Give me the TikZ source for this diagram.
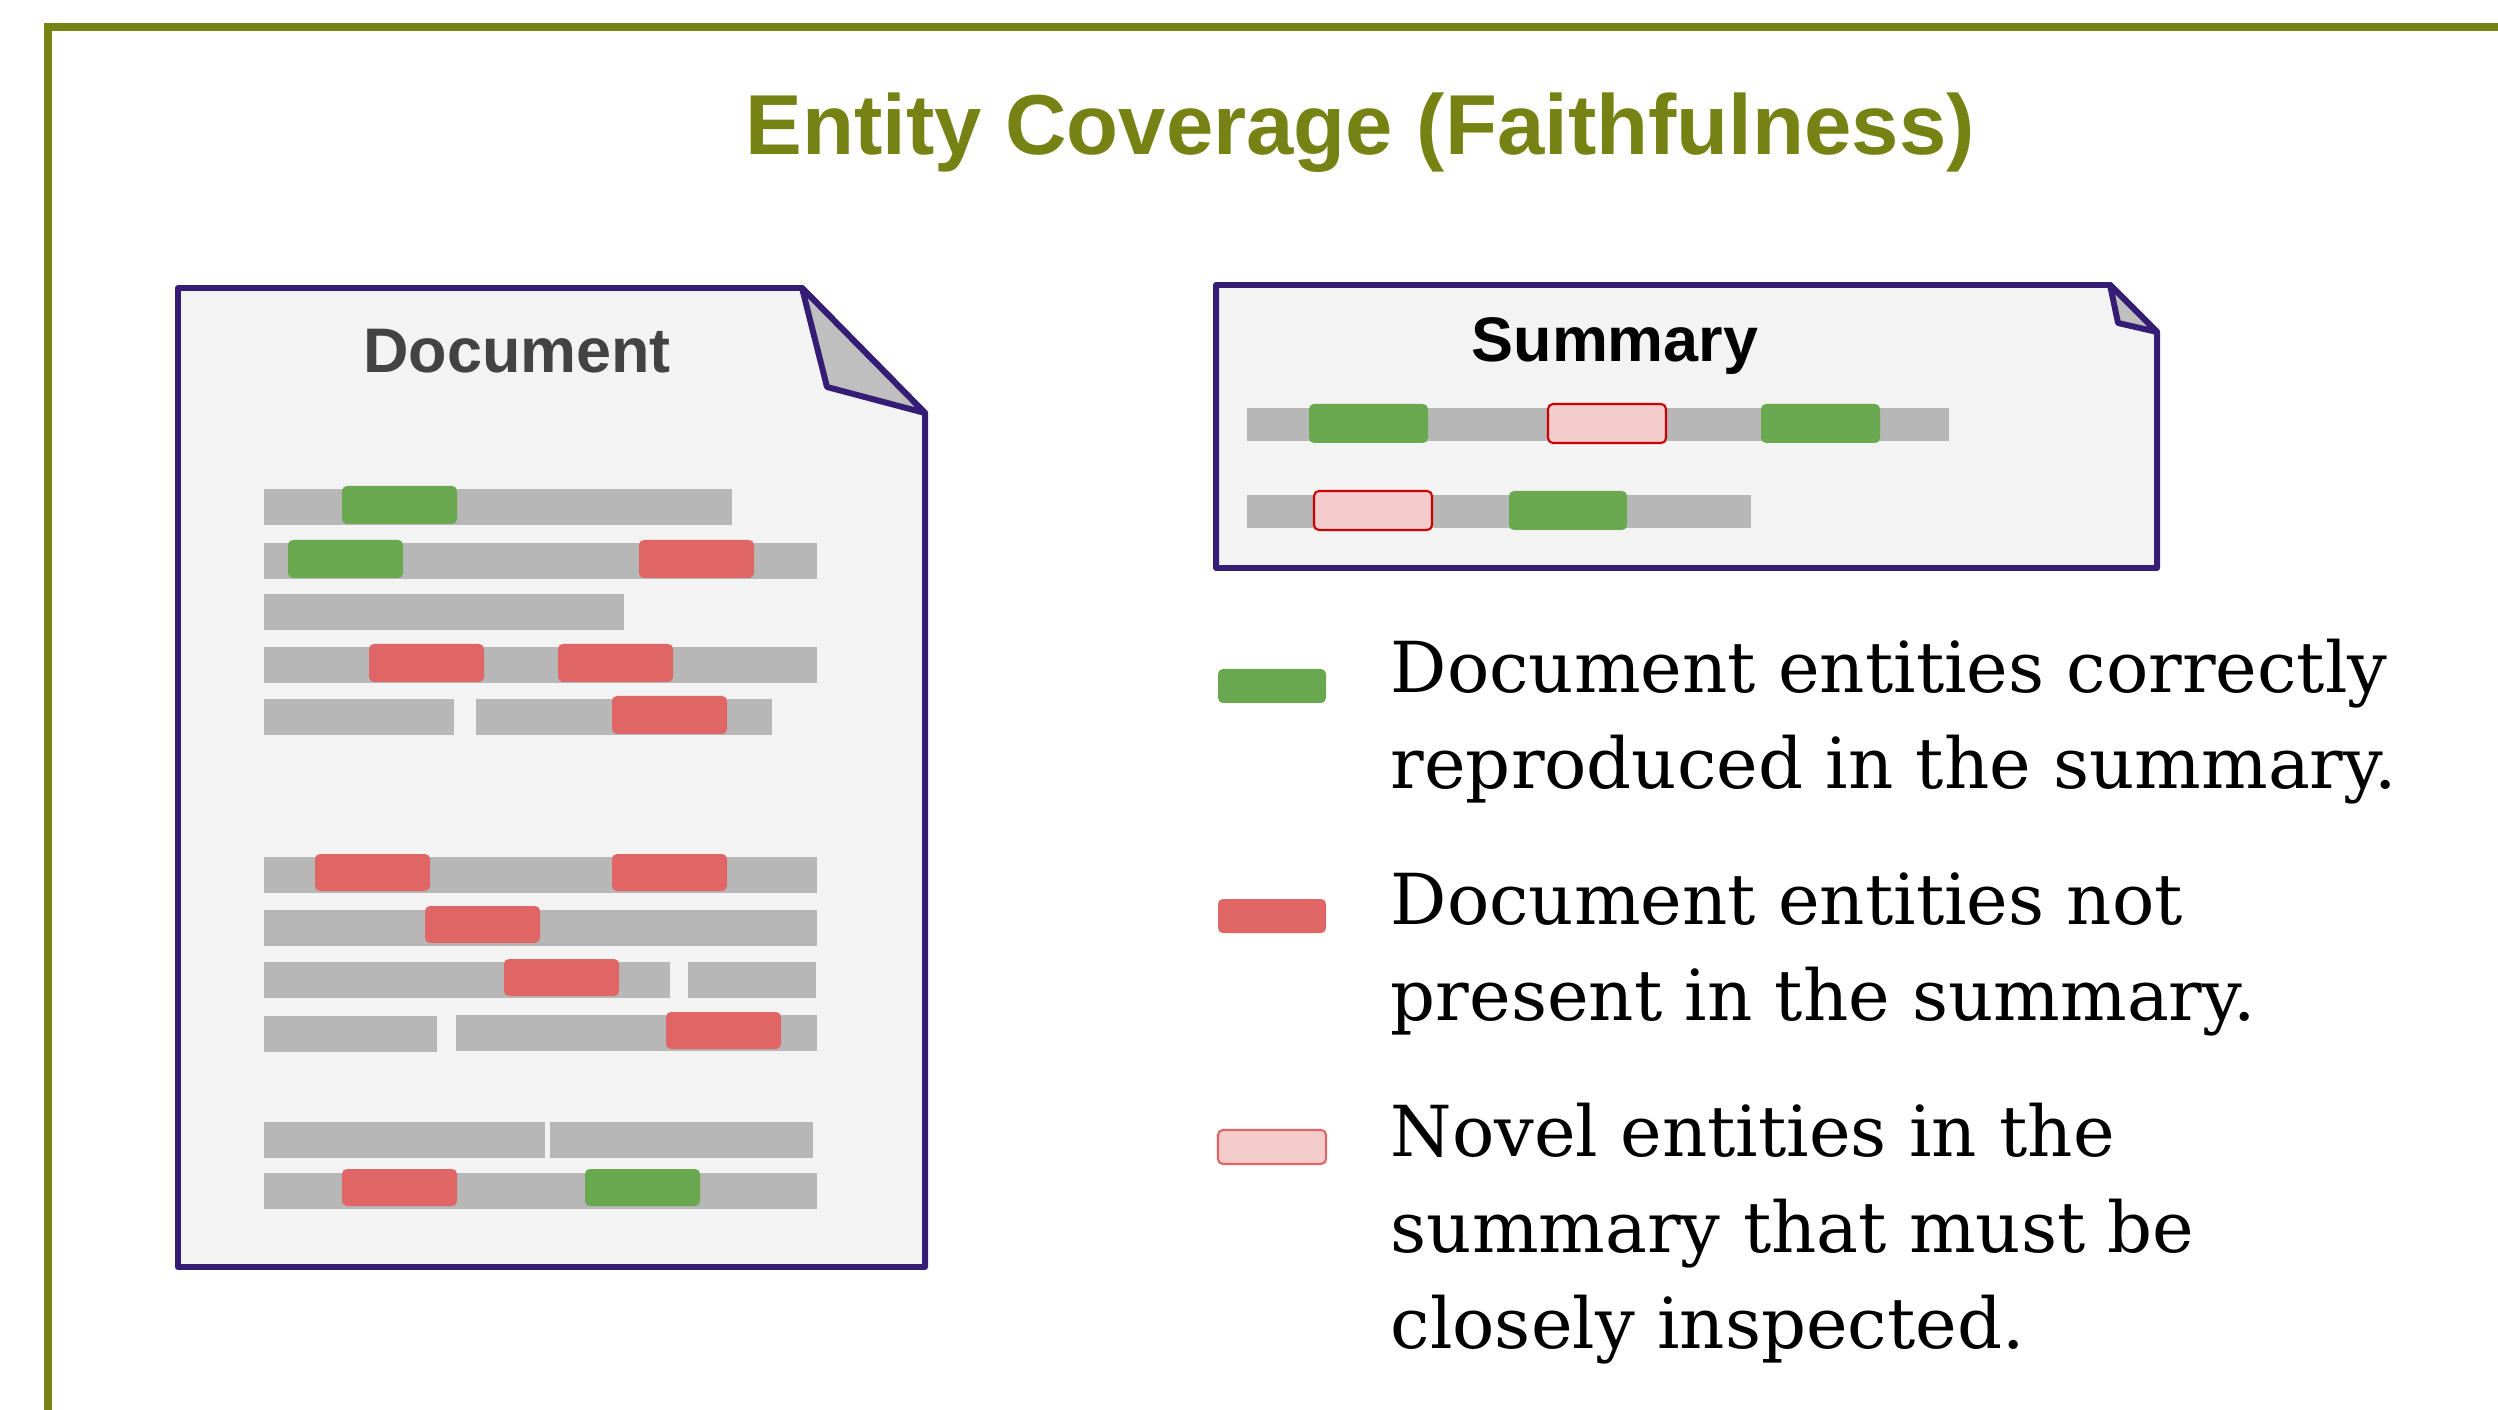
\documentclass[tikz,border=0pt]{standalone}
\usepackage{fontspec}
\newfontfamily\headfont{Liberation Sans}
\newfontfamily\legendfont{DejaVu Serif}
\definecolor{olivetitle}{RGB}{118,130,20}
\definecolor{pagepurple}{RGB}{53,28,117}
\definecolor{pagefill}{RGB}{243,243,243}
\definecolor{foldfill}{RGB}{191,191,191}
\definecolor{bargray}{RGB}{183,183,183}
\definecolor{entgreen}{RGB}{106,168,79}
\definecolor{entred}{RGB}{224,102,102}
\definecolor{entpink}{RGB}{244,204,204}
\definecolor{novelline}{RGB}{204,0,0}
\definecolor{labelgray}{RGB}{67,67,67}
\tikzset{
  page/.style={draw=pagepurple, line width=1.7pt, fill=pagefill, line join=round},
  fold/.style={page, fill=foldfill},
  textbar/.style={fill=bargray},
  entity/.style={rounded corners=1.4pt},
  goodent/.style={entity, fill=entgreen},
  missent/.style={entity, fill=entred},
  novelent/.style={entity, fill=entpink, draw=novelline, line width=0.6pt},
  pagelabel/.style={inner sep=0pt, anchor=base, font=\headfont\bfseries\fontsize{17.9}{21}\selectfont},
  legendtext/.style={inner sep=0pt, anchor=base west, align=left, font=\legendfont\fontsize{20}{27.2}\selectfont},
}
\begin{document}
\begin{tikzpicture}[x=0.01cm, y=-0.01cm]
  \useasboundingbox (0,0) rectangle (2498,1410);
  % frame and title
  \draw[olivetitle, line width=2.1pt] (48,1410) -- (48,27) -- (2498,27);
  \node[inner sep=0pt, anchor=base, text=olivetitle,
        font=\headfont\bfseries\fontsize{24.2}{29}\selectfont] (title) at (1360,155) {Entity Coverage (Faithfulness)};

  % document page
  \draw[page] (178,288) -- (802,288) -- (925,413) -- (925,1267) -- (178,1267) -- cycle;
  \draw[fold] (802,288) -- (827,387) -- (925,413) -- cycle;
  \node[pagelabel, text=labelgray] (doclabel) at (517,373) {Document};
  \begin{scope}
    \fill[textbar] (264,489) rectangle (732,525);
    \fill[textbar] (264,543) rectangle (817,579);
    \fill[textbar] (264,594) rectangle (624,630);
    \fill[textbar] (264,647) rectangle (817,683);
    \fill[textbar] (264,699) rectangle (454,735);
    \fill[textbar] (476,699) rectangle (772,735);
    \fill[textbar] (264,857) rectangle (817,893);
    \fill[textbar] (264,910) rectangle (817,946);
    \fill[textbar] (264,962) rectangle (670,998);
    \fill[textbar] (688,962) rectangle (816,998);
    \fill[textbar] (264,1016) rectangle (437,1052);
    \fill[textbar] (456,1015) rectangle (817,1051);
    \fill[textbar] (264,1122) rectangle (545,1158);
    \fill[textbar] (550,1122) rectangle (813,1158);
    \fill[textbar] (264,1173) rectangle (817,1209);
  \end{scope}
  \begin{scope}
    \fill[goodent] (342,486) rectangle ++(115,38);
    \fill[goodent] (288,540) rectangle ++(115,38);
    \fill[missent] (639,540) rectangle ++(115,38);
    \fill[missent] (369,644) rectangle ++(115,38);
    \fill[missent] (558,644) rectangle ++(115,38);
    \fill[missent] (612,696) rectangle ++(115,38);
    \fill[missent] (315,854) rectangle ++(115,37);
    \fill[missent] (612,854) rectangle ++(115,37);
    \fill[missent] (425,906) rectangle ++(115,37);
    \fill[missent] (504,959) rectangle ++(115,37);
    \fill[missent] (666,1012) rectangle ++(115,37);
    \fill[missent] (342,1169) rectangle ++(115,37);
    \fill[goodent] (585,1169) rectangle ++(115,37);
  \end{scope}

  % summary page
  \draw[page] (1216,285) -- (2110,285) -- (2157,332) -- (2157,568) -- (1216,568) -- cycle;
  \draw[fold] (2110,285) -- (2118,323) -- (2157,332) -- cycle;
  \node[pagelabel, text=black] (sumlabel) at (1615,362) {Summary};
  \fill[textbar] (1247,408) rectangle (1949,441);
  \fill[textbar] (1247,495) rectangle (1751,528);
  \fill[goodent] (1309,404) rectangle ++(119,39);
  \filldraw[novelent] (1548,404) rectangle ++(118,39);
  \fill[goodent] (1761,404) rectangle ++(119,39);
  \filldraw[novelent] (1314,491) rectangle ++(118,39);
  \fill[goodent] (1509,491) rectangle ++(118,39);

  % legend
  \fill[goodent] (1218,669) rectangle ++(108,34);
  \fill[missent] (1218,899) rectangle ++(108,34);
  \filldraw[novelent, draw=entred] (1218,1130) rectangle ++(108,34);
  \node[legendtext] (goodtext) at (1390,788) {Document entities correctly\\reproduced in the summary.};
  \node[legendtext] (misstext) at (1390,1020) {Document entities not\\present in the summary.};
  \node[legendtext] (noveltext) at (1390,1348) {Novel entities in the\\summary that must be\\closely inspected.};
\end{tikzpicture}
\end{document}
